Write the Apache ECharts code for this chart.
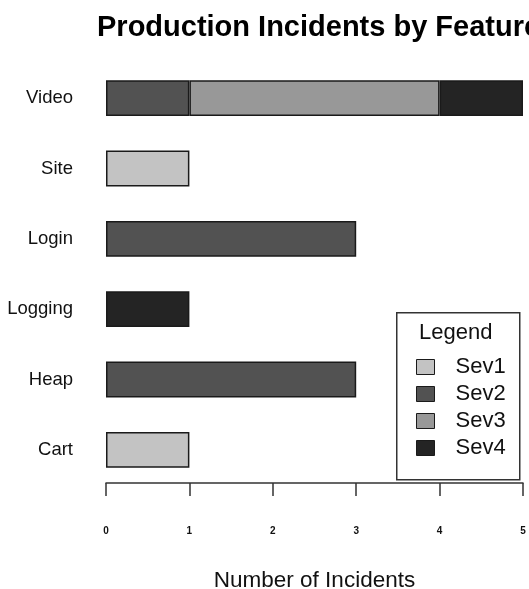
<!DOCTYPE html>
<html>
<head>
<meta charset="utf-8">
<title>Production Incidents by Feature</title>
<script src="https://cdn.jsdelivr.net/npm/echarts@6/dist/echarts.min.js"></script>
<style>
	html, body { margin: 0; padding: 0; background: #fff; }
	#chart { width: 529px; height: 589px; }
</style>
</head>
<body>
<div id="chart"></div>
<script>
// features, bottom to top
var features = ['Cart', 'Heap', 'Logging', 'Login', 'Site', 'Video'];
var sevNames = ['Sev1', 'Sev2', 'Sev3', 'Sev4'];
var sev1 = [1, 0, 0, 0, 1, 0];
var sev2 = [0, 3, 0, 3, 0, 1];
var sev3 = [0, 0, 0, 0, 0, 3];
var sev4 = [0, 0, 1, 0, 0, 1];
var xTicks = [0, 1, 2, 3, 4, 5];

var colors = ['#c3c3c3', '#525252', '#989898', '#242424'];
var font = 'Liberation Sans, Arial, Helvetica, sans-serif';

var chart = echarts.init(document.getElementById('chart'));

var series = [sev1, sev2, sev3, sev4].map(function(vals, i) {
	return {
		name: sevNames[i],
		type: 'bar',
		stack: 'total',
		barCategoryGap: '49%',
		// zero counts draw nothing
		data: vals.map(function(v) { return v === 0 ? null : v; }),
		itemStyle: {
			color: colors[i],
			borderColor: '#1a1a1a',
			borderWidth: 1.5
		}
	};
});

var option = {
	animation: false,
	textStyle: { fontFamily: font },
	title: {
		text: 'Production Incidents by Feature',
		left: 97,
		top: 13,
		padding: 0,
		textStyle: { fontSize: 29, fontWeight: 'bold', color: '#000', fontFamily: font }
	},
	grid: { left: 106, right: 6, top: 63, bottom: 104, containLabel: false, outerBoundsMode: 'none' },
	xAxis: {
		type: 'value',
		min: xTicks[0],
		max: xTicks[xTicks.length - 1],
		interval: 1,
		offset: -2,
		name: 'Number of Incidents',
		nameLocation: 'middle',
		nameGap: 86,
		nameTextStyle: { fontSize: 22.5, color: '#111', fontFamily: font },
		axisLine: { show: true, lineStyle: { color: '#333', width: 1.5 } },
		axisTick: { show: true, length: 13, lineStyle: { color: '#333', width: 1.5 } },
		axisLabel: { margin: 43, fontSize: 10, fontWeight: 'bold', color: '#111', fontFamily: font },
		splitLine: { show: false }
	},
	yAxis: {
		type: 'category',
		data: features,
		axisLine: { show: false },
		axisTick: { show: false },
		axisLabel: { margin: 33, fontSize: 18.5, color: '#111', fontFamily: font }
	},
	legend: {
		data: sevNames,
		orient: 'vertical',
		left: 416,
		top: 356,
		padding: 0,
		itemWidth: 18,
		itemHeight: 15,
		itemGap: 5,
		icon: 'rect',
		itemStyle: { borderColor: '#1a1a1a', borderWidth: 1 },
		textStyle: { fontSize: 22, lineHeight: 22, color: '#111', padding: [0, 0, 0, 16], fontFamily: font }
	},
	graphic: [
		{
			type: 'rect',
			left: 396,
			top: 312,
			z: 1,
			shape: { width: 123, height: 167 },
			style: { fill: '#fff', stroke: '#333', lineWidth: 1.5 }
		},
		{
			type: 'text',
			left: 419,
			top: 322,
			z: 2,
			style: { text: 'Legend', fontSize: 22, fill: '#111', fontFamily: font }
		}
	],
	series: series
};

chart.setOption(option);
</script>
</body>
</html>
